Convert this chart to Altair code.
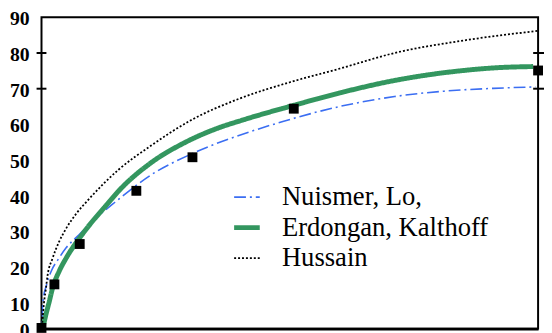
import altair as alt
import pandas as pd

series_names = ["Nuismer, Lo,", "Erdongan, Kalthoff", "Hussain"]
series_colors = ["#3b6ef2", "#33965f", "#000000"]
series_dash = [[12, 4, 2, 4], [1, 0], [2, 2]]
series_widths = [1.6, 5, 1.8]

nuismer_x = [0, 0.1, 0.3, 1.0, 2.0, 3.5, 5.0, 7.5, 11, 14.8, 22.1, 30.0, 41.9, 48.6, 60, 71.1, 81, 91.0, 99.5]
nuismer_y = [0, 5, 10.5, 15, 19, 22.5, 25.5, 29, 33.8, 38.2, 45.9, 51.6, 57.9, 60.8, 65, 67.8, 69.3, 70.1, 70.5]

erdogan_x = [0, 0.3, 0.6, 1.6, 2.2, 3.6, 4.9, 8.1, 13.5, 15.5, 22, 28.7, 35.4, 40.7, 51.2, 60, 71.1, 84.3, 92, 99]
erdogan_y = [0, 3, 5, 10.6, 14, 19, 22.4, 29, 38.1, 41.3, 49.2, 54.8, 58.9, 61.3, 65.5, 68.8, 72.3, 75.0, 75.9, 76.2]

hussain_x = [0, 0.2, 0.5, 0.9, 1.2, 2.2, 3.5, 4.9, 7, 9.5, 15.5, 22, 30, 40, 50, 60, 71.1, 85, 100]
hussain_y = [0, 5, 10, 14.1, 17.5, 22.4, 27, 30.7, 35, 39, 47.3, 54, 61.1, 67.3, 71.8, 75.6, 80.0, 83.5, 86.2]

exp_x = [0, 2.6, 7.7, 19.1, 30.4, 50.8, 100]
exp_y = [3.0, 15.2, 26.5, 41.4, 50.8, 64.4, 75.1]

y_tick_values = [2.8, 10, 20, 30, 40, 50, 60, 70, 80, 90]
y_tick_labels = ["0", "10", "20", "30", "40", "50", "60", "70", "80", "90"]
cross_ticks = [70, 80]

rows = []
for name, w, xs, ys in zip(series_names, series_widths,
                           [nuismer_x, erdogan_x, hussain_x], [nuismer_y, erdogan_y, hussain_y]):
    for xv, yv in zip(xs, ys):
        rows.append({"series": name, "w": w, "x": xv, "y": yv})
curves = pd.DataFrame(rows)
points = pd.DataFrame({"x": exp_x, "y": exp_y})
ticks = pd.DataFrame({"y": cross_ticks})
ylabels = pd.DataFrame({"y": y_tick_values, "label": y_tick_labels})

W, H = 504, 316
xscale = alt.Scale(domain=[0, 100], nice=False, zero=False)
yscale = alt.Scale(domain=[2.8, 90], nice=False, zero=False)

legend_width_expr = "datum.value === '%s' ? %s : (datum.value === '%s' ? %s : %s)" % (
    series_names[1], series_widths[1], series_names[2], series_widths[2], series_widths[0])

lines = alt.Chart(curves).mark_line(clip=True, interpolate="monotone").encode(
    x=alt.X("x:Q", scale=xscale, axis=alt.Axis(title=None, labels=False)),
    y=alt.Y("y:Q", scale=yscale, axis=alt.Axis(title=None, labels=False, domain=False)),
    color=alt.Color("series:N", scale=alt.Scale(domain=series_names, range=series_colors),
                    legend=alt.Legend(title=None,
                                      symbolStrokeWidth=alt.ExprRef(expr=legend_width_expr))),
    strokeDash=alt.StrokeDash("series:N", scale=alt.Scale(domain=series_names, range=series_dash),
                              legend=alt.Legend(title=None,
                                                symbolStrokeWidth=alt.ExprRef(expr=legend_width_expr))),
    strokeWidth=alt.StrokeWidth("w:Q", scale=None, legend=None),
)

squares = alt.Chart(points).mark_point(shape="square", filled=True, opacity=1, color="black", size=100).encode(
    x=alt.X("x:Q", scale=xscale),
    y=alt.Y("y:Q", scale=yscale),
)

label_layer = alt.Chart(ylabels).mark_text(
    align="right", baseline="middle", dy=2,
    font="Liberation Serif", fontSize=20, fontWeight="bold", color="black"
).encode(
    y=alt.Y("y:Q", scale=yscale), x=alt.value(-12), text="label:N"
)

left_ticks = alt.Chart(ticks).mark_rule(color="black", strokeWidth=2).encode(
    y=alt.Y("y:Q", scale=yscale), x=alt.value(-5), x2=alt.value(5)
)
right_ticks = alt.Chart(ticks).mark_rule(color="black", strokeWidth=2).encode(
    y=alt.Y("y:Q", scale=yscale), x=alt.value(W - 5), x2=alt.value(W + 6)
)

chart = alt.layer(lines, squares, label_layer, left_ticks, right_ticks).properties(
    width=W, height=H,
    autosize=alt.AutoSizeParams(type="none"),
    padding={"left": 34, "top": 7, "right": 6, "bottom": 2},
).configure_view(
    stroke="black", strokeWidth=2
).configure_axis(
    grid=False, ticks=False, title=None
).configure_axisX(
    labels=False, domainColor="black", domainWidth=3
).configure_axisY(
    labels=False, domain=False
).configure_legend(
    orient="none", legendX=195, legendY=169,
    symbolType="stroke", symbolSize=676,
    labelFont="Liberation Serif", labelFontSize=27, labelColor="black",
    labelOffset=22, rowPadding=3, labelLimit=400
)

chart.save("out.html", embed_options={"renderer": "svg", "actions": False})
